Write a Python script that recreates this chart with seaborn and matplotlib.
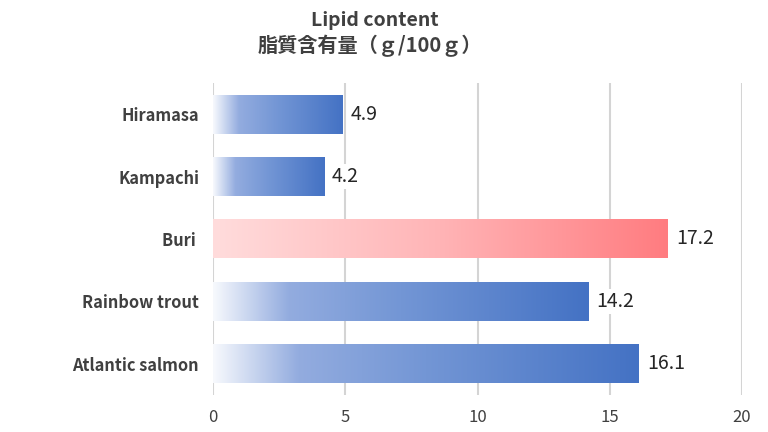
import matplotlib
matplotlib.use("Agg")
import matplotlib.pyplot as plt
import seaborn as sns
import numpy as np
import pandas as pd
from matplotlib.colors import LinearSegmentedColormap

categories = ["Hiramasa", "Kampachi", "Buri ", "Rainbow trout", "Atlantic salmon"]
values = [4.9, 4.2, 17.2, 14.2, 16.1]
highlight = [False, False, True, False, False]
value_labels = ["4.9", "4.2", "17.2", "14.2", "16.1"]
x_ticks = [0, 5, 10, 15, 20]
title_line1 = "Lipid content"
title_line2 = "脂質含有量（ｇ/100ｇ）"

sns.set_style("white")
plt.rcParams['font.family'] = ['Noto Sans CJK JP', 'DejaVu Sans']

fig = plt.figure(figsize=(7.68, 4.32), dpi=100)
ax = fig.add_axes([213/768, 1-395/432, (742-213)/768, (395-83)/432])

df = pd.DataFrame({"cat": categories, "val": values})
sns.barplot(data=df, x="val", y="cat", orient="h", ax=ax, width=0.62,
            color="#4472c4", saturation=1)

blue_cmap = LinearSegmentedColormap.from_list(
    "bl", [(0, "#f7f9fd"), (0.2, "#93acdf"), (0.5, "#7396d5"), (1.0, "#4472c4")])
red_cmap = LinearSegmentedColormap.from_list(
    "rd", [(0, "#ffdcdc"), (0.5, "#ffb4b6"), (1.0, "#ff7c80")])

grad = np.linspace(0, 1, 256).reshape(1, -1)
for patch, hl, lab in zip(ax.patches, highlight, value_labels):
    x0, y0 = patch.get_x(), patch.get_y()
    w, h = patch.get_width(), patch.get_height()
    cmap = red_cmap if hl else blue_cmap
    ax.imshow(grad, cmap=cmap, aspect="auto", extent=[x0, x0 + w, y0 + h, y0],
              zorder=2, interpolation="bicubic")
    patch.set_facecolor("none")
    patch.set_edgecolor("none")
    ax.text(x0 + w + 0.3, y0 + h / 2, lab, va="center", ha="left",
            fontsize=14, color="#262626", zorder=4,
            bbox=dict(boxstyle="square,pad=0.1", fc="white", ec="none"))

ax.set_xlim(0, 20)
ax.set_ylim(4.5, -0.5)
ax.set_xticks(x_ticks)
ax.set_xticklabels([str(t) for t in x_ticks], fontsize=12, color="#404040")
ax.tick_params(axis="x", length=0, pad=10)
ax.tick_params(axis="y", length=0, pad=10)
for t in ax.get_yticklabels():
    t.set_fontsize(11.8)
    t.set_fontweight("bold")
    t.set_color("#404040")
ax.set_xlabel("")
ax.set_ylabel("")
for s in ax.spines.values():
    s.set_visible(False)
ax.grid(False)
for t in x_ticks:
    ax.axvline(t, color="#d4d4d4", lw=1.5, zorder=1)

fig.text(375/768, 1-20/432, title_line1, ha="center", va="center",
         fontsize=14, fontweight="bold", color="#404040")
fig.text(370/768, 1-46/432, title_line2, ha="center", va="center",
         fontsize=14.5, fontweight="bold", color="#404040")

fig.savefig("out.png", dpi=100)
